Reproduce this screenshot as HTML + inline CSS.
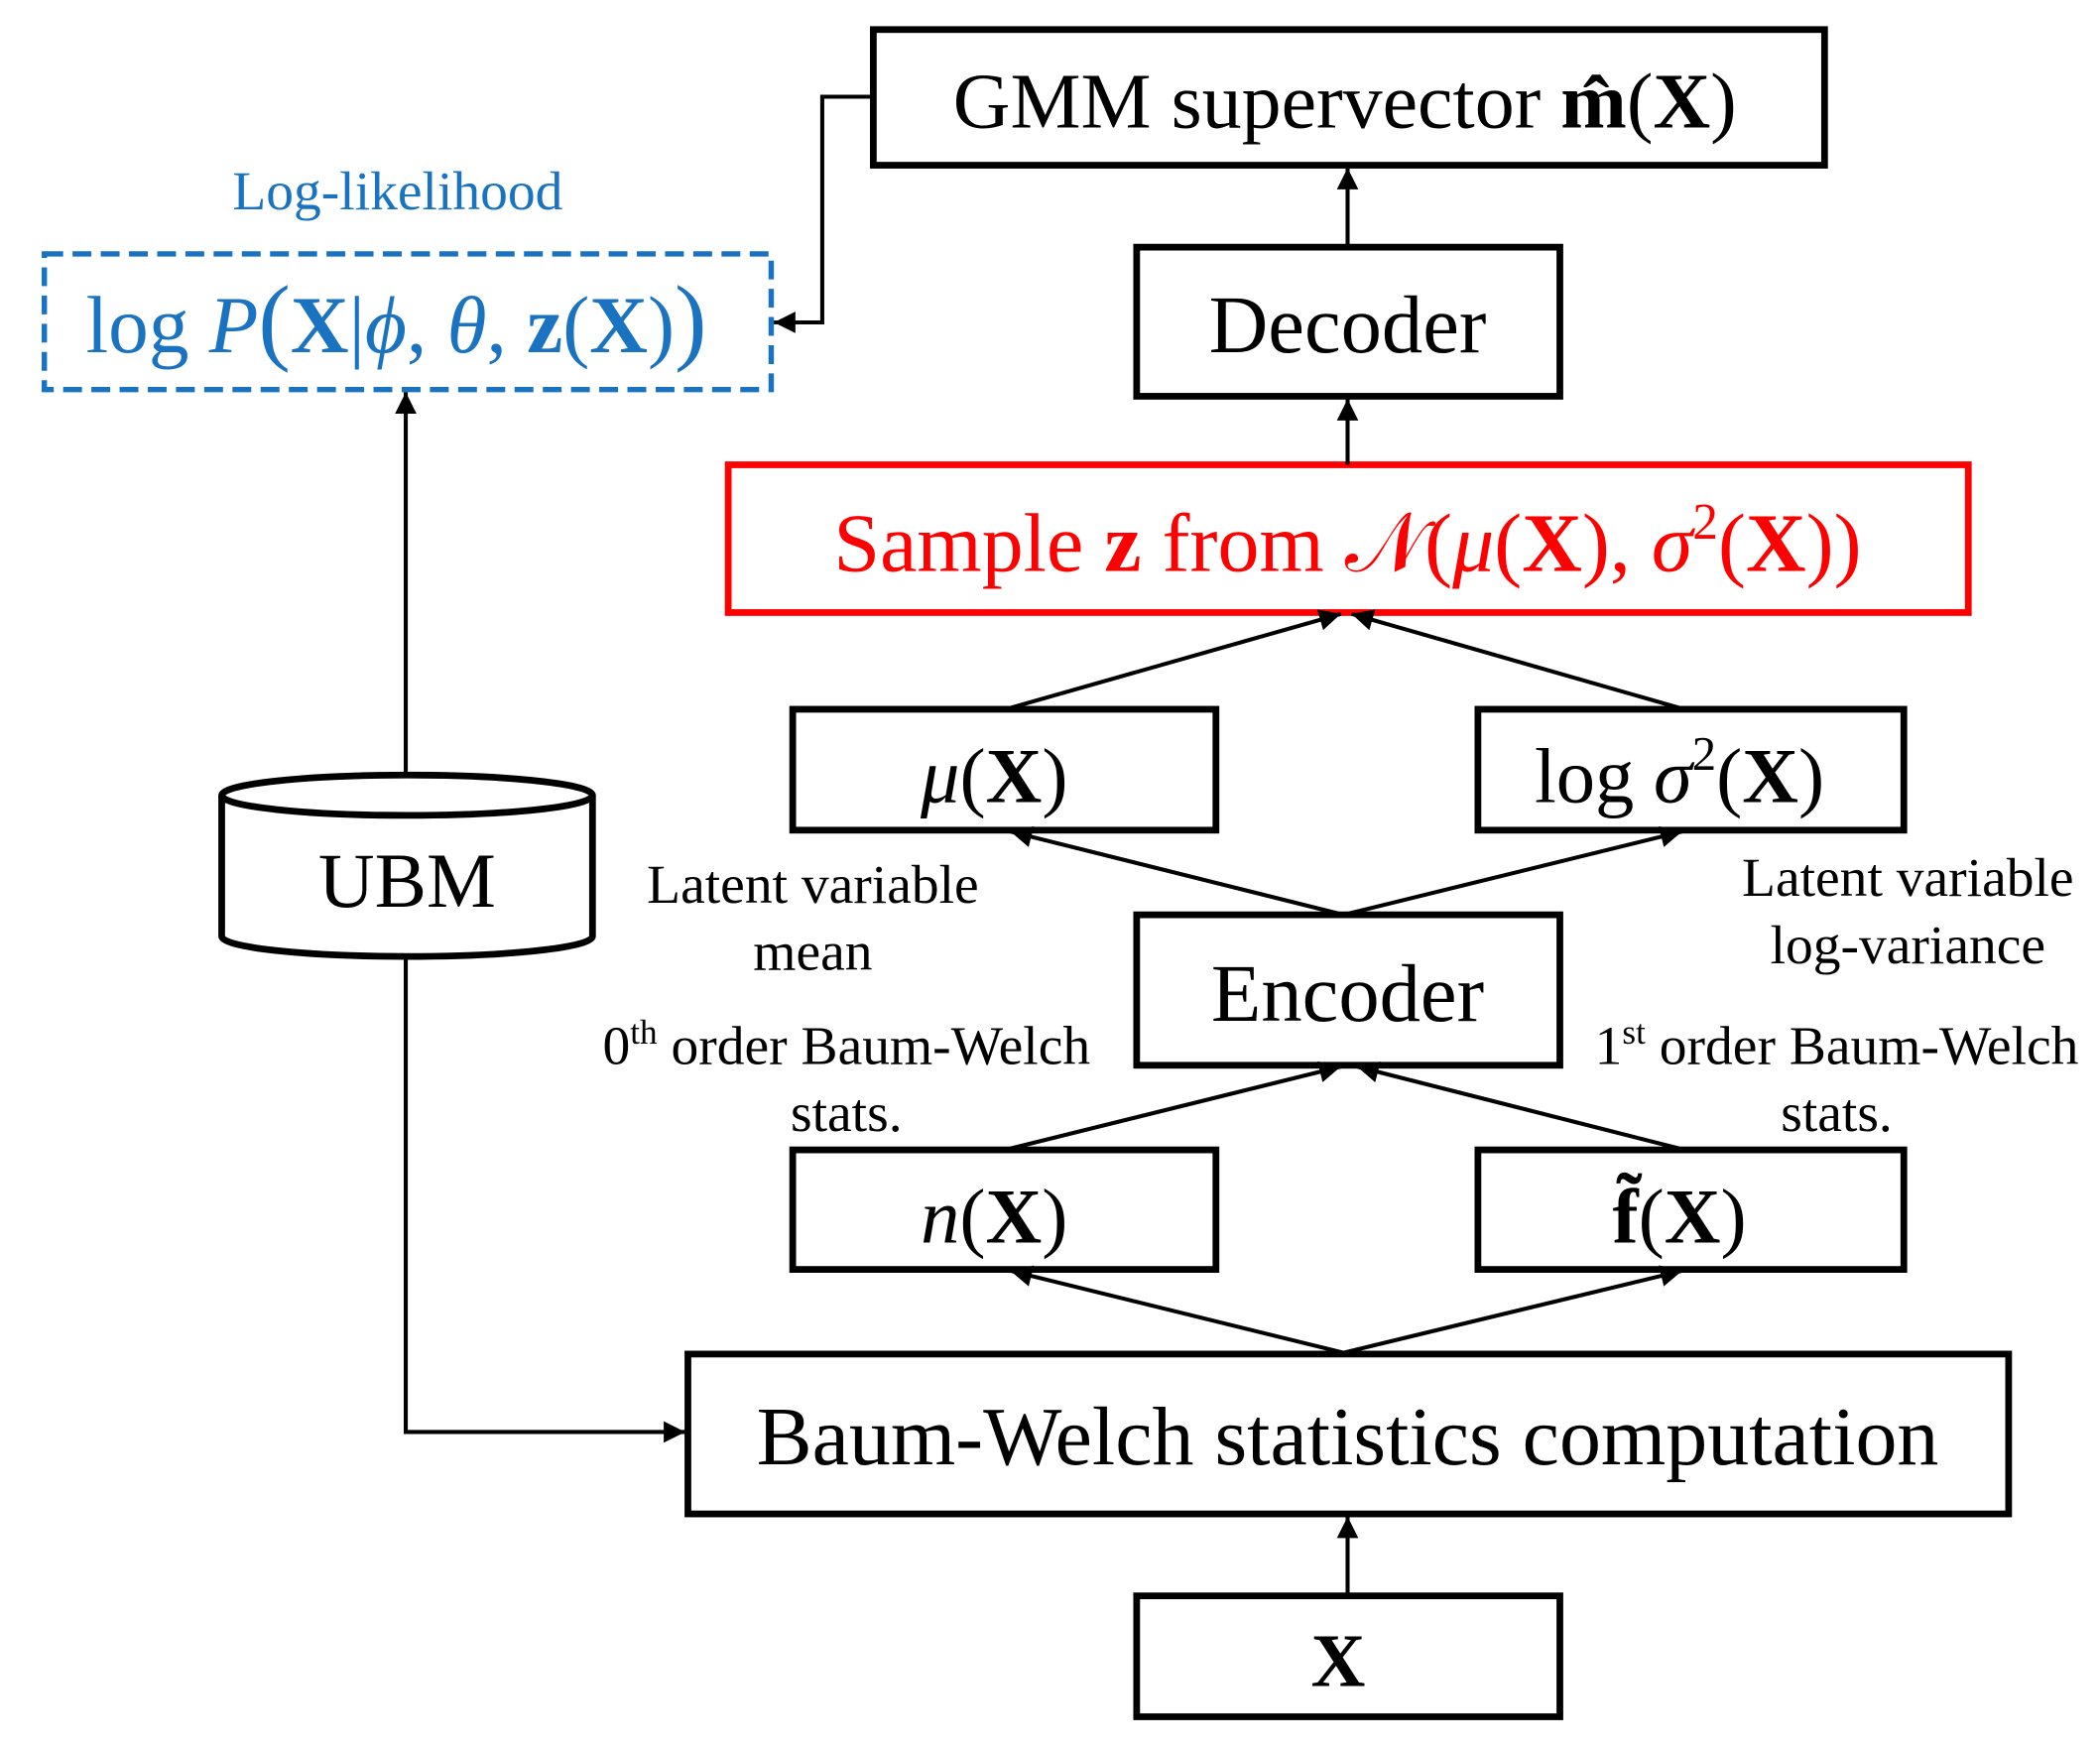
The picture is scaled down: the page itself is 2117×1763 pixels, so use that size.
<!DOCTYPE html>
<html><head><meta charset="utf-8"><style>
html,body{margin:0;padding:0;background:#fff;}
svg{display:block;}
text{font-family:"Liberation Serif","DejaVu Serif",serif;}
</style></head><body>
<svg width="2117" height="1763" viewBox="0 0 1563 1302" preserveAspectRatio="none" xmlns="http://www.w3.org/2000/svg">
<defs>
<marker id="a" viewBox="0 0 10 10" markerWidth="20" markerHeight="16" refX="10" refY="5" orient="auto" markerUnits="userSpaceOnUse">
<path d="M0,0 L10,5 L0,10 z" fill="#000"/>
</marker>
</defs>
<g fill="none" stroke="#000" stroke-width="5">
<rect x="650" y="22" width="708" height="101"/>
<rect x="846" y="184" width="315" height="111"/>
<rect x="590" y="528" width="315" height="90"/>
<rect x="1100" y="528" width="317" height="90"/>
<rect x="846" y="681" width="315" height="112"/>
<rect x="590" y="856" width="315" height="89"/>
<rect x="1100" y="856" width="317" height="89"/>
<rect x="512" y="1008" width="983" height="119"/>
<rect x="846" y="1188" width="315" height="90"/>
</g>
<rect x="542" y="346" width="923" height="110" fill="none" stroke="#f00" stroke-width="5"/>
<rect x="33" y="189" width="541" height="101" fill="none" stroke="#1a73c0" stroke-width="4" stroke-dasharray="14,7"/>
<path d="M165,592 L165,697 A138,15 0 0 0 441,697 L441,592" fill="#fff" stroke="#000" stroke-width="5"/>
<ellipse cx="303" cy="592" rx="138" ry="15" fill="#fff" stroke="#000" stroke-width="5"/>
<g stroke="#000" stroke-width="3" fill="none" marker-end="url(#a)">
<line x1="1003" y1="1188" x2="1003" y2="1129"/>
<line x1="1003" y1="184" x2="1003" y2="125"/>
<line x1="1003" y1="346" x2="1003" y2="297"/>
<line x1="302" y1="575" x2="302" y2="292"/>
<polyline points="302,712 302,1066 510,1066"/>
<polyline points="650,72 612,72 612,240 576,240"/>
<line x1="752" y1="527" x2="998" y2="457"/>
<line x1="1250" y1="527" x2="1006" y2="457"/>
<line x1="1000" y1="681" x2="752" y2="619"/>
<line x1="1000" y1="681" x2="1252" y2="619"/>
<line x1="752" y1="855" x2="998" y2="794"/>
<line x1="1250" y1="855" x2="1010" y2="794"/>
<line x1="1000" y1="1007" x2="752" y2="946"/>
<line x1="1000" y1="1007" x2="1252" y2="946"/>
</g>
<g text-anchor="middle" fill="#000">
<text x="1001" y="95" font-size="59">GMM supervector <tspan font-weight="bold">m̂</tspan>(<tspan font-weight="bold">X</tspan>)</text>
<text x="1003" y="262" font-size="61">Decoder</text>
<text x="1003" y="425" font-size="62" fill="#f00">Sample <tspan font-weight="bold">z</tspan> from 𝒩(<tspan font-style="italic">μ</tspan>(<tspan font-weight="bold">X</tspan>), <tspan font-style="italic">σ</tspan><tspan font-size="38" dy="-24">2</tspan><tspan dy="24">(</tspan><tspan font-weight="bold">X</tspan>))</text>
<text x="740" y="597" font-size="58"><tspan font-style="italic">μ</tspan>(<tspan font-weight="bold">X</tspan>)</text>
<text x="1250" y="597" font-size="58">log <tspan font-style="italic">σ</tspan><tspan font-size="36" dy="-24">2</tspan><tspan dy="24">(</tspan><tspan font-weight="bold">X</tspan>)</text>
<text x="1003" y="760" font-size="61">Encoder</text>
<text x="740" y="925" font-size="58"><tspan font-style="italic">n</tspan>(<tspan font-weight="bold">X</tspan>)</text>
<text x="1250" y="925" font-size="58"><tspan font-weight="bold">f̃</tspan>(<tspan font-weight="bold">X</tspan>)</text>
<text x="1003" y="1090" font-size="62">Baum-Welch statistics computation</text>
<text x="996" y="1255" font-size="56" font-weight="bold">X</text>
<text x="303" y="675" font-size="58">UBM</text>
<text x="296" y="156" font-size="41" fill="#1a73c0">Log-likelihood</text>
<text x="295" y="262" font-size="60" fill="#1a73c0">log <tspan font-style="italic">P</tspan><tspan font-size="72">(</tspan><tspan font-weight="bold">X</tspan>|<tspan font-style="italic">ϕ</tspan>, <tspan font-style="italic">θ</tspan>, <tspan font-weight="bold">z</tspan>(<tspan font-weight="bold">X</tspan>)<tspan font-size="72">)</tspan></text>
<g font-size="41">
<text x="605" y="672">Latent variable</text>
<text x="605" y="722">mean</text>
<text x="1420" y="667">Latent variable</text>
<text x="1420" y="717">log-variance</text>
<text x="630" y="792">0<tspan font-size="26" dy="-15">th</tspan><tspan dy="15"> order Baum-Welch</tspan></text>
<text x="630" y="842">stats.</text>
<text x="1367" y="792">1<tspan font-size="26" dy="-15">st</tspan><tspan dy="15"> order Baum-Welch</tspan></text>
<text x="1367" y="842">stats.</text>
</g>
</g>
</svg>
</body></html>
